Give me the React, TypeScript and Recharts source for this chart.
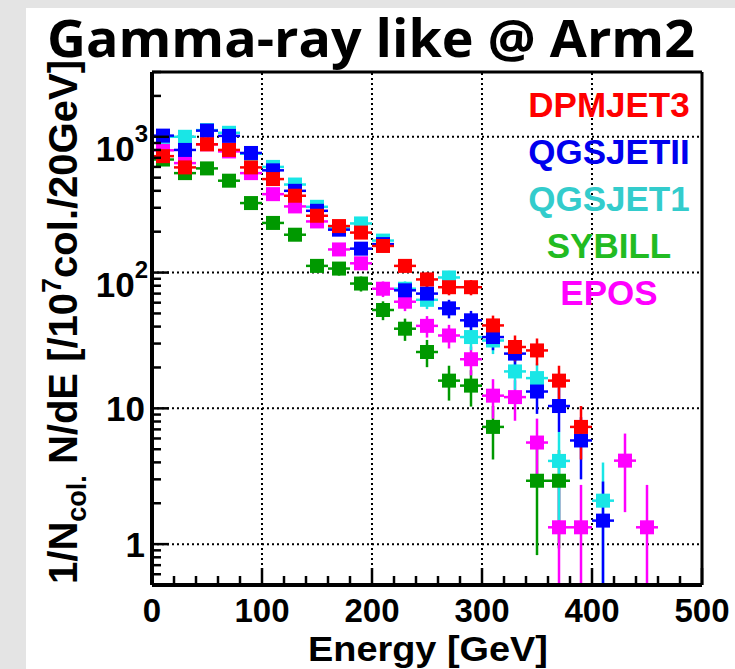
import React from "react";
import { ScatterChart, Scatter, XAxis, YAxis, ErrorBar, ReferenceLine } from "recharts";

// bin centres (20 GeV bins)
const energies = [10, 30, 50, 70, 90, 110, 130, 150, 170, 190, 210, 230, 250, 270, 290, 310, 330, 350, 370, 390, 410, 430, 450];

const dpmjet3 = [720, 595, 880, 800, 595, 488, 368, 262, 220, 197, 157, 112, 89, 78, 78, 40.8, 28.3, 26.7, 16.0, 7.3, null, null, null];
const dpmjet3Err = [31, 28, 34, 33, 28, 25, 22, 19, 17, 16, 14.5, 12, 11, 10, 10, 7.4, 6.1, 6.0, 4.6, 3.1, null, null, null];

const qgsjet2 = [1020, 800, 1110, 1015, 760, 566, 400, 285, 207, 150, 162, 74, 70, 54.5, 44.5, 33.5, 25.3, 13.3, 10.4, 5.8, 1.49, null, null];
const qgsjet2Err = [37, 33, 38, 37, 32, 27, 23, 19.5, 16.6, 14, 14.7, 9.9, 9.6, 8.5, 7.7, 6.7, 5.8, 4.2, 3.7, 2.8, 1.4, null, null];

const qgsjet1 = [1000, 1000, 1120, 1070, 750, 600, 445, 305, 212, 230, 172, 76, 63, 92, 33.5, 31.6, 18.7, 16.7, 4.1, null, 2.09, null, null];
const qgsjet1Err = [36, 36, 39, 38, 32, 28, 24, 20, 17, 17.5, 15, 10, 9.2, 11, 6.7, 6.5, 5, 4.7, 2.6, null, 1.9, null, null];

const sybill = [680, 540, 585, 475, 325, 232, 190, 112, 107, 83, 53, 38.6, 26, 16, 14.7, 7.3, null, 2.93, 2.93, null, null, null, null];
const sybillErr = [30, 27, 28, 25, 21, 17.6, 16, 12, 12, 10.5, 8.4, 7.2, 5.9, 4.6, 4.4, 3.1, null, 2.1, 2.0, null, null, null, null];

const epos = [795, 640, 880, 780, 540, 378, 307, 238, 148, 117, 76, 61, 40.5, 34.4, 23, 12.4, 12.1, 5.6, 1.33, 1.33, null, 4.12, 1.33];
const eposErr = [32, 29, 34, 32, 27, 22, 20, 18, 14, 12.5, 10, 9, 7.3, 6.8, 5.5, 4, 4, 2.8, 1.4, 1.4, null, 2.4, 1.4];

const xTicks = [0, 20, 40, 60, 80, 100, 120, 140, 160, 180, 200, 220, 240, 260, 280, 300, 320, 340, 360, 380, 400, 420, 440, 460, 480, 500];
const xLabels = [0, 100, 200, 300, 400, 500];
const yTicks = [0.5, 0.6, 0.7, 0.8, 0.9, 1, 2, 3, 4, 5, 6, 7, 8, 9, 10, 20, 30, 40, 50, 60, 70, 80, 90, 100, 200, 300, 400, 500, 600, 700, 800, 900, 1000, 2000, 3000];
const yMajor = [1, 10, 100, 1000];
const gridX = [100, 200, 300, 400];

const Y_MIN = 0.5;
const Y_MAX = 3000;

const W = 735;
const H = 669;
const FONT = "'Liberation Sans', Arial, sans-serif";

function rows(values: (number | null)[], errs: (number | null)[]) {
  const out: any[] = [];
  energies.forEach((e, i) => {
    const v = values[i];
    const err = errs[i];
    if (v == null || err == null) return;
    // lower end stops at the bottom of the log axis
    out.push({ e, v, xe: 10, ye: [Math.min(err, v - Y_MIN), err] });
  });
  return out;
}

const series = [
  { name: "SYBILL", data: rows(sybill, sybillErr), color: "#009900" },
  { name: "EPOS", data: rows(epos, eposErr), color: "#ff00ff" },
  { name: "QGSJET1", data: rows(qgsjet1, qgsjet1Err), color: "#19e6e6" },
  { name: "QGSJETII", data: rows(qgsjet2, qgsjet2Err), color: "#0000ff" },
  { name: "DPMJET3", data: rows(dpmjet3, dpmjet3Err), color: "#ff0000" },
];

const legend = [
  { name: "DPMJET3", color: "#ff0000" },
  { name: "QGSJETII", color: "#0000ee" },
  { name: "QGSJET1", color: "#33cccc" },
  { name: "SYBILL", color: "#22bb22" },
  { name: "EPOS", color: "#ff00ff" },
];

const YTick = (props: any) => {
  const { x, y, payload } = props;
  const v = payload.value;
  const major = yMajor.includes(v);
  const len = major ? 17 : 9;
  let label = null;
  if (major) {
    if (v >= 100) {
      const exp = Math.round(Math.log10(v));
      label = (
        <text x={x - 4} y={y + 24} textAnchor="end" fontSize={35} fontWeight="bold" fontFamily={FONT} fill="#000">
          10<tspan fontSize={24} dy={-19}>{exp}</tspan>
        </text>
      );
    } else {
      label = (
        <text x={x - 7} y={y + 13} textAnchor="end" fontSize={35} fontWeight="bold" fontFamily={FONT} fill="#000">
          {v}
        </text>
      );
    }
  }
  return (
    <g>
      <line x1={x} x2={x + len} y1={y} y2={y} stroke="#000" strokeWidth={2.5} />
      {label}
    </g>
  );
};

const XTick = (props: any) => {
  const { x, y, payload } = props;
  const v = payload.value;
  const major = xLabels.includes(v);
  const len = major ? 17 : 9;
  return (
    <g>
      <line x1={x} x2={x} y1={y} y2={y - len} stroke="#000" strokeWidth={2.5} />
      {major && (
        <text x={x} y={y + 37} textAnchor="middle" fontSize={33} fontWeight="bold" fontFamily={FONT} fill="#000">
          {v}
        </text>
      )}
    </g>
  );
};

export default function App() {
  return (
    <div style={{ position: "absolute", left: 0, top: 0, width: W, height: H, background: "#e4e4e4", overflow: "hidden" }}>
      <div style={{ position: "absolute", left: 26, top: 8, width: W - 26, height: H - 8, background: "#fff" }} />
      <div style={{ position: "absolute", left: 0, top: 0 }}>
        <ScatterChart width={W} height={H} margin={{ top: 72, right: 33, bottom: 44, left: 92 }}>
          {gridX.map((g) => (
            <ReferenceLine key={"gx" + g} x={g} stroke="#000" strokeWidth={2} strokeDasharray="2 3" />
          ))}
          {yMajor.map((g) => (
            <ReferenceLine key={"gy" + g} y={g} stroke="#000" strokeWidth={2} strokeDasharray="2 3" />
          ))}
          <XAxis
            type="number"
            dataKey="e"
            domain={[0, 500]}
            ticks={xTicks}
            interval={0}
            height={40}
            tickSize={0}
            tickMargin={0}
            tickLine={false}
            axisLine={{ stroke: "#000", strokeWidth: 4 }}
            tick={<XTick />}
          />
          <YAxis
            type="number"
            dataKey="v"
            scale="log"
            domain={[Y_MIN, Y_MAX]}
            allowDataOverflow
            ticks={yTicks}
            interval={0}
            width={60}
            tickSize={0}
            tickMargin={0}
            tickLine={false}
            axisLine={{ stroke: "#000", strokeWidth: 4 }}
            tick={<YTick />}
          />
          {series.map((s) => (
            <Scatter
              key={s.name}
              name={s.name}
              data={s.data}
              fill={s.color}
              isAnimationActive={false}
              shape={(p: any) => <rect x={p.cx - 7} y={p.cy - 7} width={14} height={14} fill={s.color} />}
            >
              <ErrorBar dataKey="xe" direction="x" width={0} stroke={s.color} strokeWidth={2.5} isAnimationActive={false} />
              <ErrorBar dataKey="ye" direction="y" width={0} stroke={s.color} strokeWidth={2.5} isAnimationActive={false} />
            </Scatter>
          ))}
          <ReferenceLine y={Y_MAX} stroke="#000" strokeWidth={3} />
          <ReferenceLine x={500} stroke="#000" strokeWidth={3} />
        </ScatterChart>
      </div>
      <svg width={W} height={H} style={{ position: "absolute", left: 0, top: 0, pointerEvents: "none" }}>
        <text x={371} y={57} textAnchor="middle" fontSize={52} fontWeight="bold" fontFamily="'Open Sans', sans-serif" textLength={648} lengthAdjust="spacingAndGlyphs" fill="#000">
          Gamma-ray like @ Arm2
        </text>
        {legend.map((l, i) => (
          <text key={l.name} x={609} y={117 + i * 47} textAnchor="middle" fontSize={35} fontWeight="bold" fontFamily={FONT} fill={l.color}>
            {l.name}
          </text>
        ))}
        <text x={428} y={661} textAnchor="middle" fontSize={35} fontWeight="bold" fontFamily={FONT} textLength={240} lengthAdjust="spacingAndGlyphs" fill="#000">
          Energy [GeV]
        </text>
        <text transform="translate(77,322) rotate(-90)" textAnchor="middle" fontSize={40} fontWeight="bold" fontFamily={FONT} fill="#000">
          1/N<tspan fontSize={27} dy={9}>col.</tspan>
          <tspan dy={-9}> N/dE [/10</tspan>
          <tspan fontSize={27} dy={-16}>7</tspan>
          <tspan dy={16}>col./20GeV]</tspan>
        </text>
      </svg>
    </div>
  );
}
